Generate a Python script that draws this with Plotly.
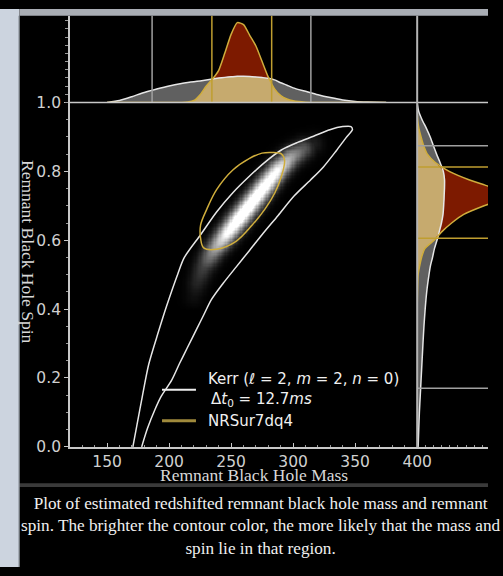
import numpy as np
import plotly.graph_objects as go

# ---------------------------------------------------------------------------
# Data
# ---------------------------------------------------------------------------
# Kerr (l=2, m=2, n=0) 90% contour in the mass-spin plane (open at spin = 0)
kerr_contour_mass = [170.8, 174.0, 178.4, 183.6, 191.4, 198.0, 207.1, 212.3, 225.4,
                     238.3, 251.4, 264.5, 277.4, 290.5, 303.6, 316.5, 329.6, 340.0,
                     346.6, 347.8, 342.7, 334.8, 324.4, 314.0, 300.9, 287.9, 274.9,
                     264.5, 254.0, 243.6, 234.2, 227.9, 222.5, 214.6, 208.4, 202.1,
                     193.5, 188.8, 182.6, 177.9]
kerr_contour_spin = [0.000, 0.062, 0.146, 0.240, 0.334, 0.409, 0.503, 0.550, 0.616,
                     0.682, 0.738, 0.785, 0.827, 0.862, 0.884, 0.902, 0.921, 0.930,
                     0.930, 0.921, 0.898, 0.860, 0.813, 0.775, 0.729, 0.672, 0.616,
                     0.569, 0.522, 0.475, 0.428, 0.383, 0.344, 0.287, 0.242, 0.194,
                     0.146, 0.110, 0.054, 0.000]

# NRSur7dq4 90% contour
nrsur_contour_mass = [225.4, 227.9, 238.3, 254.0, 267.0, 277.4, 285.3, 290.5, 293.1,
                      290.5, 282.7, 274.9, 264.5, 251.4, 238.3, 230.5, 225.4, 225.4]
nrsur_contour_spin = [0.606, 0.578, 0.574, 0.597, 0.644, 0.691, 0.738, 0.785, 0.832,
                      0.851, 0.855, 0.853, 0.837, 0.804, 0.747, 0.691, 0.644, 0.606]

# Ridge of the Kerr posterior density (mass, spin, relative brightness)
ridge_mass = [220.1, 222.7, 227.9, 235.8, 246.2, 256.6, 267.0, 277.4, 287.9, 298.3, 308.7, 316.6]
ridge_spin = [0.437, 0.475, 0.522, 0.569, 0.616, 0.663, 0.710, 0.757, 0.804, 0.841, 0.865, 0.879]
ridge_level = [0.05, 0.12, 0.22, 0.50, 0.85, 1.00, 1.00, 0.95, 0.85, 0.55, 0.30, 0.10]

# Marginal posterior of the remnant mass (relative density)
mass_grid = [150, 160, 170, 180, 190, 200, 210, 215, 220, 225, 230, 235, 240, 245, 250,
             255, 260, 265, 270, 275, 280, 285, 290, 295, 300, 310, 320, 330, 340, 350,
             360, 375]
kerr_mass_pdf = [0.000, 0.024, 0.071, 0.123, 0.164, 0.202, 0.232, 0.244, 0.254, 0.264,
                 0.276, 0.288, 0.298, 0.307, 0.314, 0.321, 0.321, 0.319, 0.313, 0.305,
                 0.295, 0.276, 0.242, 0.211, 0.179, 0.137, 0.095, 0.060, 0.030, 0.012,
                 0.005, 0.000]
nrsur_mass_pdf = [0.000, 0.000, 0.000, 0.000, 0.000, 0.000, 0.000, 0.006, 0.024, 0.095,
                  0.202, 0.286, 0.393, 0.607, 0.833, 0.976, 0.952, 0.821, 0.690, 0.500,
                  0.310, 0.167, 0.083, 0.042, 0.021, 0.004, 0.000, 0.000, 0.000, 0.000,
                  0.000, 0.000]

# Marginal posterior of the remnant spin (relative density)
spin_grid = [0.0, 0.05, 0.1, 0.15, 0.2, 0.25, 0.3, 0.35, 0.4, 0.45, 0.5, 0.525, 0.55,
             0.575, 0.6, 0.625, 0.65, 0.675, 0.7, 0.71, 0.72, 0.73, 0.74, 0.75, 0.76,
             0.775, 0.8, 0.825, 0.85, 0.875, 0.9, 0.925, 0.95, 0.975, 1.0]
kerr_spin_pdf = [0.012, 0.019, 0.027, 0.038, 0.049, 0.060, 0.071, 0.083, 0.098, 0.117,
                 0.145, 0.162, 0.188, 0.211, 0.243, 0.271, 0.298, 0.317, 0.325, 0.327,
                 0.330, 0.331, 0.333, 0.335, 0.336, 0.336, 0.321, 0.282, 0.238, 0.198,
                 0.160, 0.113, 0.060, 0.018, 0.000]
nrsur_spin_pdf = [0.000, 0.000, 0.000, 0.000, 0.000, 0.000, 0.000, 0.000, 0.000, 0.004,
                  0.012, 0.030, 0.054, 0.092, 0.208, 0.304, 0.423, 0.571, 0.821, 0.940,
                  1.024, 1.071, 1.036, 0.952, 0.833, 0.643, 0.393, 0.226, 0.125, 0.079,
                  0.048, 0.021, 0.006, 0.000, 0.000]

# 90% credible bounds
kerr_mass_ci = [186.3, 314.3]
nrsur_mass_ci = [234.5, 282.7]
kerr_spin_ci = [0.170, 0.874]
nrsur_spin_ci = [0.606, 0.813]

mass_ticks = [150, 200, 250, 300, 350, 400]
spin_ticks = [0.0, 0.2, 0.4, 0.6, 0.8, 1.0]

caption = ("Plot of estimated redshifted remnant black hole mass and remnant<br>"
           "spin. The brighter the contour color, the more likely that the mass and<br>"
           "spin lie in that region.")

# ---------------------------------------------------------------------------
# Page geometry (pixels of a 503 x 576 page)
# ---------------------------------------------------------------------------
W, H = 503, 576
def fx(p):
    return p / W
def fy(p):
    return 1 - p / H

X_LEFT, X_MID = fx(72), fx(430)
Y_BOT, Y_MID, Y_TOP = fy(452), fy(96.5), fy(7)
MASS_RANGE = [120, 400]
SPIN_RANGE = [0, 1.0]

WHITE = "#e6e6e6"
YELLOW = "#cfad3c"
GRAY_FILL = "#606060"
RED_FILL = "#7d1a00"
TAN_FILL = "#c6aa6e"
AXIS = "#c8c8c8"

fig = go.Figure()

# ---------------------------------------------------------------------------
# Density image of the Kerr posterior (soft glow around the ridge)
# ---------------------------------------------------------------------------
hm_mass = np.arange(195.0, 341.0, 1.0)
hm_spin = np.arange(0.40, 0.95, 0.004)
MM, SS = np.meshgrid(hm_mass, hm_spin)
# work in screen-like units so the glow is round on the page
sx = 358.0 / (MASS_RANGE[1] - MASS_RANGE[0])
sy = 355.0
PX, PY = (MM - MASS_RANGE[0]) * sx, SS * sy
rx = (np.array(ridge_mass) - MASS_RANGE[0]) * sx
ry = np.array(ridge_spin) * sy
lv = np.array(ridge_level)
sigma = 7.0
Z = np.zeros_like(PX)
for i in range(len(rx) - 1):
    dx, dy = rx[i + 1] - rx[i], ry[i + 1] - ry[i]
    t = ((PX - rx[i]) * dx + (PY - ry[i]) * dy) / (dx * dx + dy * dy)
    t = np.clip(t, 0, 1)
    d2 = (PX - rx[i] - t * dx) ** 2 + (PY - ry[i] - t * dy) ** 2
    level = lv[i] + t * (lv[i + 1] - lv[i])
    Z = np.maximum(Z, level * np.exp(-d2 / (2 * sigma ** 2)))

fig.add_trace(go.Heatmap(
    x=hm_mass, y=hm_spin, z=np.round(Z, 3), xaxis="x", yaxis="y",
    colorscale=[[0, "#000000"], [0.5, "#808080"], [1, "#ffffff"]],
    zmin=0, zmax=0.85, showscale=False, hoverinfo="skip"))

# ---------------------------------------------------------------------------
# 2-D credible contours
# ---------------------------------------------------------------------------
fig.add_trace(go.Scatter(x=kerr_contour_mass, y=kerr_contour_spin, mode="lines",
                         line=dict(color=WHITE, width=1.5, shape="spline", smoothing=0.8),
                         xaxis="x", yaxis="y", hoverinfo="skip", showlegend=False))
fig.add_trace(go.Scatter(x=nrsur_contour_mass, y=nrsur_contour_spin, mode="lines",
                         line=dict(color=YELLOW, width=1.5, shape="spline", smoothing=1.0),
                         xaxis="x", yaxis="y", hoverinfo="skip", showlegend=False))

# ---------------------------------------------------------------------------
# Marginal of the mass (top panel)
# ---------------------------------------------------------------------------
mass_overlap = np.minimum(kerr_mass_pdf, nrsur_mass_pdf)
for yv, col in [(kerr_mass_pdf, GRAY_FILL), (nrsur_mass_pdf, RED_FILL), (mass_overlap, TAN_FILL)]:
    fig.add_trace(go.Scatter(x=mass_grid, y=yv, mode="lines", fill="tozeroy", fillcolor=col,
                             line=dict(width=0, shape="spline", smoothing=0.6),
                             xaxis="x2", yaxis="y2", hoverinfo="skip", showlegend=False))
for yv, col in [(kerr_mass_pdf, WHITE), (nrsur_mass_pdf, YELLOW)]:
    fig.add_trace(go.Scatter(x=mass_grid, y=yv, mode="lines",
                             line=dict(color=col, width=1.5, shape="spline", smoothing=0.6),
                             xaxis="x2", yaxis="y2", hoverinfo="skip", showlegend=False))

# ---------------------------------------------------------------------------
# Marginal of the spin (right panel)
# ---------------------------------------------------------------------------
spin_overlap = np.minimum(kerr_spin_pdf, nrsur_spin_pdf)
for xv, col in [(kerr_spin_pdf, GRAY_FILL), (nrsur_spin_pdf, RED_FILL), (spin_overlap, TAN_FILL)]:
    fig.add_trace(go.Scatter(x=xv, y=spin_grid, mode="lines", fill="tozerox", fillcolor=col,
                             line=dict(width=0, shape="spline", smoothing=0.6),
                             xaxis="x3", yaxis="y3", hoverinfo="skip", showlegend=False))
for xv, col in [(kerr_spin_pdf, WHITE), (nrsur_spin_pdf, YELLOW)]:
    fig.add_trace(go.Scatter(x=xv, y=spin_grid, mode="lines",
                             line=dict(color=col, width=1.5, shape="spline", smoothing=0.6),
                             xaxis="x3", yaxis="y3", hoverinfo="skip", showlegend=False))

# ---------------------------------------------------------------------------
# Shapes: credible-interval lines, frame lines, page decoration
# ---------------------------------------------------------------------------
shapes = []
for v in kerr_mass_ci:
    shapes.append(dict(type="line", xref="x", yref="paper", x0=v, x1=v, y0=Y_MID, y1=Y_TOP,
                       line=dict(color="#a0a0a0", width=1.5)))
for v in nrsur_mass_ci:
    shapes.append(dict(type="line", xref="x", yref="paper", x0=v, x1=v, y0=Y_MID, y1=Y_TOP,
                       line=dict(color="#bf9e30", width=1.5)))
for v in kerr_spin_ci:
    shapes.append(dict(type="line", xref="paper", yref="y", x0=X_MID, x1=1, y0=v, y1=v,
                       line=dict(color="#a0a0a0", width=1.5)))
for v in nrsur_spin_ci:
    shapes.append(dict(type="line", xref="paper", yref="y", x0=X_MID, x1=1, y0=v, y1=v,
                       line=dict(color="#bf9e30", width=1.5)))

# baseline of the top panel, continued over the right panel
shapes.append(dict(type="line", xref="paper", yref="paper", x0=X_LEFT, x1=1, y0=Y_MID, y1=Y_MID,
                   line=dict(color=AXIS, width=1.5)))
# divider between the main panel and the right panel
shapes.append(dict(type="line", xref="paper", yref="paper", x0=X_MID, x1=X_MID, y0=Y_BOT, y1=Y_TOP,
                   line=dict(color="#b4b4b4", width=2)))

# legend samples
shapes.append(dict(type="line", xref="paper", yref="paper", x0=fx(167), x1=fx(202),
                   y0=fy(393), y1=fy(393), line=dict(color="#eeeeee", width=2)))
shapes.append(dict(type="line", xref="paper", yref="paper", x0=fx(167), x1=fx(202),
                   y0=fy(425), y1=fy(425), line=dict(color="#a08a3c", width=3)))

# caption separator
shapes.append(dict(type="rect", xref="paper", yref="paper", x0=fx(20), x1=1,
                   y0=fy(493.5), y1=fy(489.5), fillcolor="#3a3a3a", line=dict(width=0)))
# window surround
shapes.append(dict(type="rect", xref="paper", yref="paper", x0=0, x1=fx(20), y0=0, y1=1,
                   fillcolor="#ccd4df", line=dict(width=0)))
shapes.append(dict(type="rect", xref="paper", yref="paper", x0=fx(20), x1=1, y0=fy(7), y1=1,
                   fillcolor="#a9adb4", line=dict(width=0)))
shapes.append(dict(type="line", xref="paper", yref="paper", x0=fx(19.5), x1=fx(19.5), y0=0, y1=fy(7),
                   line=dict(color="#8e959e", width=1)))

# ---------------------------------------------------------------------------
# Text
# ---------------------------------------------------------------------------
SERIF = "Liberation Serif"
SANS = "DejaVu Sans"
TXT = dict(xref="paper", yref="paper", showarrow=False, yanchor="middle")
annotations = [
    dict(text="Remnant Black Hole Mass", x=fx(262), y=fy(481), xanchor="center",
         font=dict(family=SERIF, size=17.5, color="#d8d8d8"), **TXT),
    dict(text="Remnant Black Hole Spin", x=fx(29), y=fy(250), xanchor="center", textangle=90,
         font=dict(family=SERIF, size=17.5, color="#d8d8d8"), **TXT),
    dict(text=caption, x=fx(269), y=fy(534), xanchor="center", align="center",
         font=dict(family=SERIF, size=17.2, color="#f0f0f0"), **TXT),
    dict(text="Kerr (<i>ℓ</i> = 2, <i>m</i> = 2, <i>n</i> = 0)", x=fx(212), y=fy(382),
         xanchor="left", font=dict(family=SANS, size=15, color="#f0f0f0"), **TXT),
    dict(text="Δ<i>t</i><sub>0</sub> = 12.7<i>ms</i>", x=fx(215), y=fy(403),
         xanchor="left", font=dict(family=SANS, size=15, color="#f0f0f0"), **TXT),
    dict(text="NRSur7dq4", x=fx(212), y=fy(425),
         xanchor="left", font=dict(family=SANS, size=15, color="#f0f0f0"), **TXT),
]

tickfont = dict(family=SANS, size=15.5, color="#d0d0d0")

fig.update_layout(
    width=W, height=H, margin=dict(l=0, r=0, t=0, b=0),
    paper_bgcolor="#000000", plot_bgcolor="rgba(0,0,0,0)",
    showlegend=False,
    xaxis=dict(domain=[X_LEFT, X_MID], range=MASS_RANGE, anchor="y",
               tickmode="array", tickvals=mass_ticks, ticks="inside", ticklen=4,
               tickcolor=AXIS, tickfont=tickfont, showline=True, linecolor=AXIS,
               linewidth=1.5, showgrid=False, zeroline=False,
               minor=dict(tickmode="linear", tick0=120, dtick=10, ticks="inside",
                          ticklen=2, tickcolor="#9a9a9a", showgrid=False)),
    yaxis=dict(domain=[Y_BOT, Y_MID], range=SPIN_RANGE, anchor="x",
               tickmode="array", tickvals=spin_ticks, tickformat=".1f",
               ticks="outside", ticklen=4, tickcolor=AXIS, tickfont=tickfont,
               showline=True, linecolor=AXIS, linewidth=1.5, showgrid=False, zeroline=False,
               minor=dict(tickmode="linear", tick0=0, dtick=0.05, ticks="outside",
                          ticklen=2, tickcolor="#9a9a9a", showgrid=False)),
    xaxis2=dict(domain=[X_LEFT, X_MID], range=MASS_RANGE, anchor="y2", matches="x",
                showticklabels=False, ticks="", showline=False, showgrid=False, zeroline=False),
    yaxis2=dict(domain=[Y_MID, Y_TOP], range=[0, 1.06], anchor="x2",
                showticklabels=False, ticks="outside", ticklen=3, dtick=0.1,
                tickcolor="#9a9a9a", showline=True, linecolor=AXIS, linewidth=1.5,
                showgrid=False, zeroline=False),
    xaxis3=dict(domain=[X_MID, 1.0], range=[0, 0.869], anchor="y3",
                showticklabels=False, ticks="inside", ticklen=2, dtick=0.1,
                tickcolor="#9a9a9a", showline=True, linecolor=AXIS, linewidth=1.5,
                showgrid=False, zeroline=False),
    yaxis3=dict(domain=[Y_BOT, Y_MID], range=SPIN_RANGE, anchor="x3", matches="y",
                showticklabels=False, ticks="", showline=False, showgrid=False, zeroline=False),
    shapes=shapes,
    annotations=annotations,
)

fig.write_html("out.html")
